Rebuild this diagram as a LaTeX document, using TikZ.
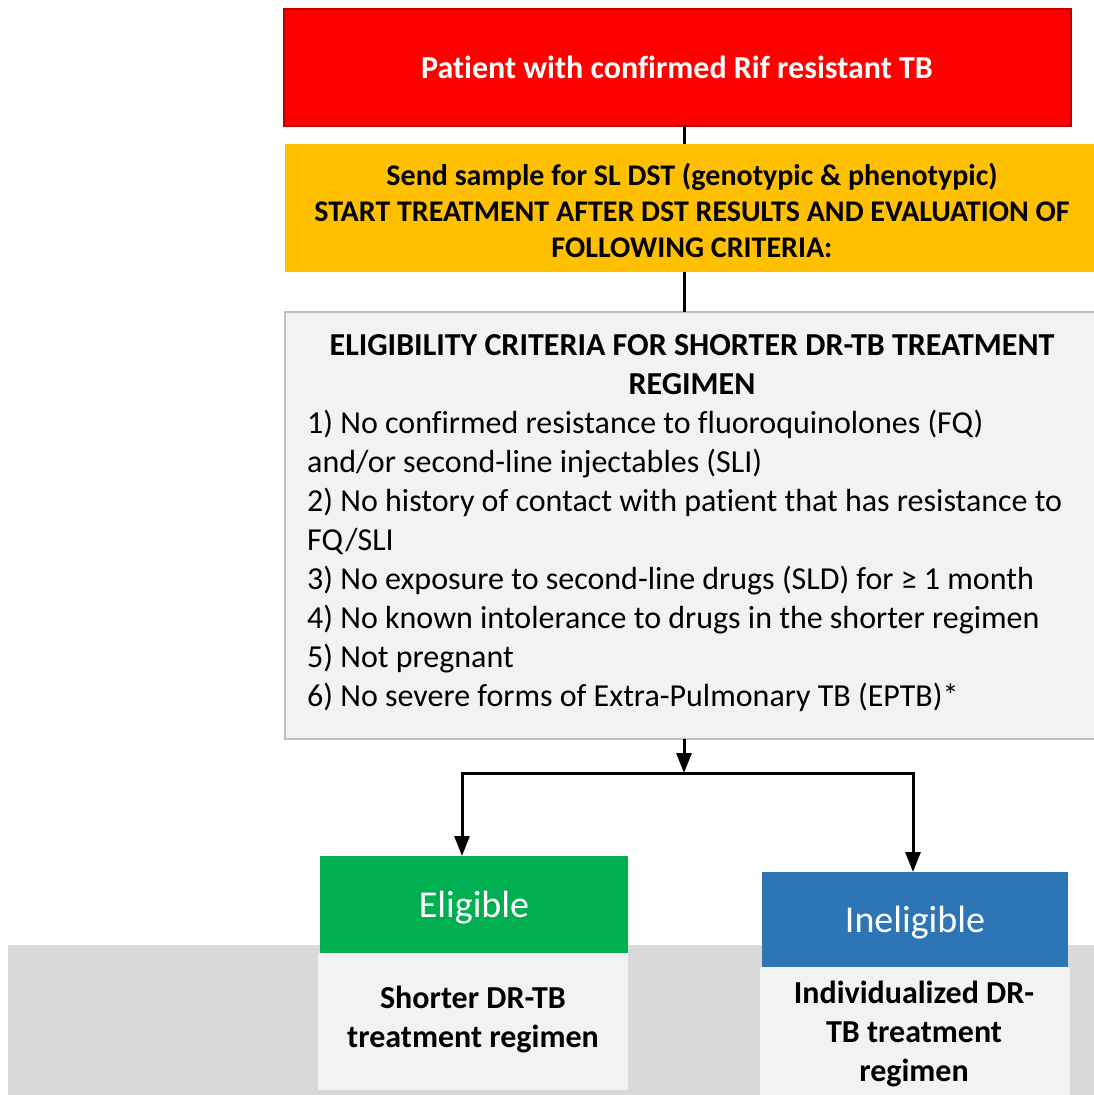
\documentclass[tikz,border=0pt]{standalone}
\usepackage{fontspec}
\setmainfont{Carlito}[Ligatures=NoCommon]
\usetikzlibrary{arrows.meta}
\definecolor{rifred}{HTML}{FF0000}
\definecolor{rifedge}{HTML}{C00000}
\definecolor{dstorange}{HTML}{FFC000}
\definecolor{critfill}{HTML}{F2F2F2}
\definecolor{critedge}{HTML}{BFBFBF}
\definecolor{eliggreen}{HTML}{00B050}
\definecolor{inelblue}{HTML}{2E75B6}
\definecolor{bandgrey}{HTML}{D9D9D9}
\begin{document}
\begin{tikzpicture}[x=1pt,y=-1pt,
  box/.style={rectangle, inner sep=0pt, outer sep=0pt, anchor=north west},
  conn/.style={draw=black, line width=3pt},
  tipped/.style={conn, -{Triangle[length=20pt,width=15pt]}},
  boldtext/.style={font=\fontsize{32}{39}\selectfont\bfseries, align=center, inner sep=0pt},
  plaintext/.style={font=\fontsize{32}{39}\selectfont, align=left, inner sep=0pt}
]
\useasboundingbox (0,0) rectangle (1094,1095);

% background band behind the two outcome columns
\node[box, fill=bandgrey, minimum width=1090, minimum height=152] (band) at (8,945) {};

% first step
\node[box, fill=rifred, draw=rifedge, line width=1.5pt, minimum width=787, minimum height=117] (rif) at (284,9) {};
\node[boldtext, text=white, font=\fontsize{32}{39}\selectfont\bfseries] (riftext) at (677,67.5) {Patient with confirmed Rif resistant TB};

% second-line DST
\node[box, fill=dstorange, minimum width=815, minimum height=128] (dst) at (285,144) {};
\node[boldtext, font=\fontsize{30}{36}\selectfont\bfseries] (dsttext) at (692,210)
  {Send sample for SL DST (genotypic \& phenotypic)\\START TREATMENT AFTER DST RESULTS AND EVALUATION OF\\FOLLOWING CRITERIA:};

% eligibility criteria
\node[box, fill=critfill, draw=critedge, line width=2pt, minimum width=815, minimum height=427] (crit) at (285,312) {};
\node[boldtext] (crittitle) at (692,364.5) {ELIGIBILITY CRITERIA FOR SHORTER DR-TB TREATMENT\\REGIMEN};
\node[plaintext, anchor=west] (critlist) at (307,561) {%
1) No confirmed resistance to fluoroquinolones (FQ)\\
and/or second-line injectables (SLI)\\
2) No history of contact with patient that has resistance to\\
FQ/SLI\\
3) No exposure to second-line drugs (SLD) for ≥ 1 month\\
4) No known intolerance to drugs in the shorter regimen\\
5) Not pregnant\\
6) No severe forms of Extra-Pulmonary TB (EPTB)*};

% outcomes
\node[box, fill=eliggreen, minimum width=308, minimum height=97] (elig) at (320,856) {};
\node[inner sep=0pt, text=white, font=\fontsize{38}{46}\selectfont] (eligtext) at (474,908) {Eligible};
\node[box, fill=critfill, minimum width=310, minimum height=137] (eligrx) at (318,953) {};
\node[boldtext] (eligrxtext) at (473,1019) {Shorter DR-TB\\treatment regimen};

\node[box, fill=inelblue, minimum width=306, minimum height=95] (inel) at (762,872) {};
\node[inner sep=0pt, text=white, font=\fontsize{38}{46}\selectfont] (ineltext) at (915,923) {Ineligible};
\node[box, fill=critfill, minimum width=310, minimum height=135] (inelrx) at (760,967) {};
\node[boldtext] (inelrxtext) at (914,1034) {Individualized DR-\\TB treatment\\regimen};

% connectors
\coordinate (spine) at (684,773);
\coordinate (lft) at (462,773);
\coordinate (rgt) at (913,773);
\draw[conn] (rif.south -| spine) -- (dst.north -| spine);
\draw[conn] (dst.south -| spine) -- (crit.north -| spine);
\draw[tipped] (crit.south -| spine) -- (spine);
\draw[tipped] (rgt) -- (lft) -- (elig.north -| lft);
\draw[tipped] (lft) -- (rgt) -- (inel.north -| rgt);
\end{tikzpicture}
\end{document}
